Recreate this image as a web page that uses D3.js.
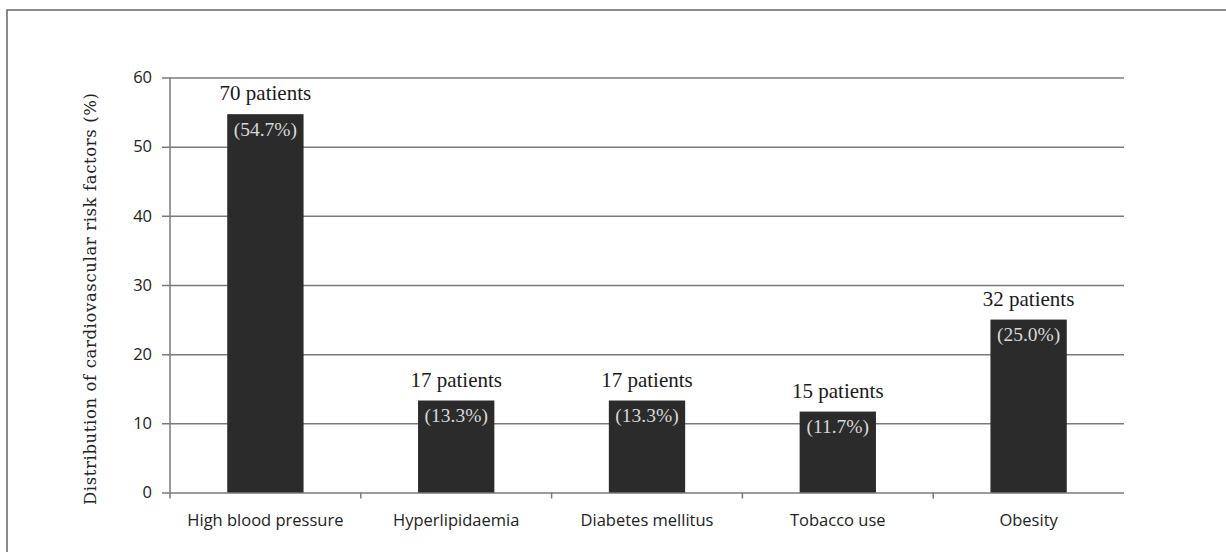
<!DOCTYPE html>
<html>
<head>
<meta charset="utf-8">
<script src="https://cdn.jsdelivr.net/npm/d3@7"></script>
<style>
  html, body { margin: 0; padding: 0; background: #fff; }
  svg { display: block; }
</style>
</head>
<body>
<svg id="chart" width="1226" height="552"></svg>
<script>
// Cardiovascular risk factors among the study patients
const categories = ["High blood pressure", "Hyperlipidaemia", "Diabetes mellitus", "Tobacco use", "Obesity"];
const percents = [54.7, 13.3, 13.3, 11.7, 25.0];
const patientCounts = [70, 17, 17, 15, 32];
const yTicks = [0, 10, 20, 30, 40, 50, 60];
const yTitle = "Distribution of cardiovascular risk factors (%)";

const svg = d3.select("#chart");
const margin = { left: 170, right: 102, top: 77.5, bottom: 59.5 };
const W = 1226, H = 552;
const innerW = W - margin.left - margin.right;
const innerH = H - margin.top - margin.bottom;

// frame around the figure
svg.append("rect")
  .attr("x", 7).attr("y", 10)
  .attr("width", W).attr("height", H)
  .attr("fill", "none").attr("stroke", "#6e6e6e").attr("stroke-width", 1.6);

const g = svg.append("g").attr("transform", `translate(${margin.left},${margin.top})`);

const x = d3.scaleBand().domain(categories).range([0, innerW]).paddingInner(0.6).paddingOuter(0.3);
const y = d3.scaleLinear().domain([0, 60]).range([innerH, 0]);

// horizontal gridlines with ticks extending left of the axis
const yAxis = g.append("g")
  .call(d3.axisLeft(y).tickValues(yTicks).tickSize(-innerW).tickPadding(18).tickFormat(d3.format("d")));
yAxis.select(".domain").remove();
yAxis.selectAll(".tick line")
  .attr("x1", -8)
  .attr("stroke", "#7a7a7a").attr("stroke-width", 1.5);
yAxis.selectAll(".tick text")
  .attr("fill", "#222")
  .style("font-family", "'Open Sans', sans-serif")
  .style("font-size", "16.5px");

// vertical axis line
g.append("line")
  .attr("x1", 0).attr("x2", 0).attr("y1", 0).attr("y2", innerH)
  .attr("stroke", "#7a7a7a").attr("stroke-width", 1.5);

// category tick marks between groups
const bounds = d3.range(categories.length).map(i => i * innerW / categories.length);
g.selectAll(".xtick").data(bounds).join("line")
  .attr("class", "xtick")
  .attr("x1", d => d).attr("x2", d => d)
  .attr("y1", innerH).attr("y2", innerH + 6)
  .attr("stroke", "#7a7a7a").attr("stroke-width", 1.5);

// bars
g.selectAll(".bar").data(categories).join("rect")
  .attr("class", "bar")
  .attr("x", d => x(d))
  .attr("width", x.bandwidth())
  .attr("y", (d, i) => y(percents[i]))
  .attr("height", (d, i) => innerH - y(percents[i]))
  .attr("fill", "#2b2b2b");

// patient counts above bars
g.selectAll(".count").data(categories).join("text")
  .attr("class", "count")
  .attr("x", d => x(d) + x.bandwidth() / 2)
  .attr("y", (d, i) => y(percents[i]) - 14)
  .attr("text-anchor", "middle")
  .attr("fill", "#1a1a1a")
  .style("font-family", "'Liberation Serif', 'Times New Roman', serif")
  .style("font-size", "21px")
  .text((d, i) => `${patientCounts[i]} patients`);

// percentage labels inside bar tops
g.selectAll(".pct").data(categories).join("text")
  .attr("class", "pct")
  .attr("x", d => x(d) + x.bandwidth() / 2)
  .attr("y", (d, i) => y(percents[i]) + 21.5)
  .attr("text-anchor", "middle")
  .attr("fill", "#d8d8d8")
  .style("font-family", "'Liberation Serif', 'Times New Roman', serif")
  .style("font-size", "19.5px")
  .text((d, i) => `(${percents[i].toFixed(1)}%)`);

// category labels
g.selectAll(".cat").data(categories).join("text")
  .attr("class", "cat")
  .attr("x", d => x(d) + x.bandwidth() / 2)
  .attr("y", innerH + 33)
  .attr("text-anchor", "middle")
  .attr("fill", "#222")
  .style("font-family", "'Open Sans', sans-serif")
  .style("font-size", "16.5px")
  .text(d => d);

// y-axis title
svg.append("text")
  .attr("transform", `translate(96,${margin.top + innerH / 2 + 14}) rotate(-90)`)
  .attr("text-anchor", "middle")
  .attr("fill", "#222")
  .style("font-family", "'DejaVu Serif', serif")
  .style("font-size", "16.5px")
  .attr("textLength", 412)
  .text(yTitle);
</script>
</body>
</html>
